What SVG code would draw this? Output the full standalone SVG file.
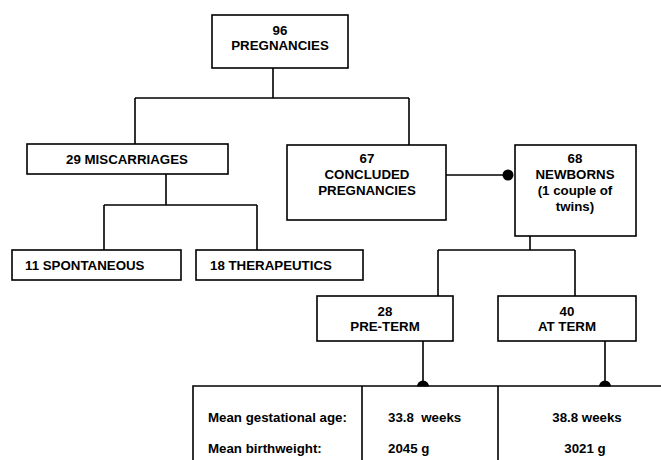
<svg xmlns="http://www.w3.org/2000/svg" width="661" height="460" viewBox="0 0 661 460">
<style>
.box{fill:#fff;stroke:#000;stroke-width:1.6}
.ln{fill:none;stroke:#000;stroke-width:1.6}
text{font-family:"Liberation Sans",Arial,sans-serif;font-weight:bold;font-size:13.3px;fill:#000}
.c{text-anchor:middle}
</style>
<rect width="661" height="460" fill="#fff"/>
<g id="connectors">
<path class="ln" d="M273 68V98M135 98H409M135 98V144M409 98V145"/>
<path class="ln" d="M166 174V205M104 205H257M104 205V250M257 205V250"/>
<path class="ln" d="M446 175H508"/>
<circle cx="508" cy="175" r="5.5" fill="#000"/>
<path class="ln" d="M530 236V250M438 250H575M438 250V296M575 250V296"/>
<path class="ln" d="M423 341V386M605 341V386"/>
<path d="M417 386.5A6 6 0 0 1 429 386.5Z M599 386.5A6 6 0 0 1 611 386.5Z" fill="#000"/>
</g>
<g id="n96">
<rect class="box" x="212" y="15" width="136" height="53"/>
<text class="c" x="280" y="35">96</text>
<text class="c" x="280" y="50">PREGNANCIES</text>
</g>
<g id="miscarriages">
<rect class="box" x="27" y="144" width="201" height="30"/>
<text class="c" x="127" y="164">29 MISCARRIAGES</text>
</g>
<g id="concluded">
<rect class="box" x="287" y="145" width="159" height="75"/>
<text class="c" x="367" y="163">67</text>
<text class="c" x="367" y="179">CONCLUDED</text>
<text class="c" x="367" y="195">PREGNANCIES</text>
</g>
<g id="newborns">
<rect class="box" x="515" y="145" width="121" height="91"/>
<text class="c" x="575" y="163">68</text>
<text class="c" x="575" y="179">NEWBORNS</text>
<text class="c" x="575" y="195">(1 couple of</text>
<text class="c" x="575" y="211">twins)</text>
</g>
<g id="spontaneous">
<rect class="box" x="12" y="250" width="169" height="30"/>
<text x="25" y="270">11 SPONTANEOUS</text>
</g>
<g id="therapeutics">
<rect class="box" x="196" y="250" width="167" height="30"/>
<text x="210" y="270">18 THERAPEUTICS</text>
</g>
<g id="preterm">
<rect class="box" x="317" y="296" width="136" height="45"/>
<text class="c" x="385" y="316">28</text>
<text class="c" x="385" y="331">PRE-TERM</text>
</g>
<g id="atterm">
<rect class="box" x="498" y="296" width="138" height="45"/>
<text class="c" x="567" y="316">40</text>
<text class="c" x="567" y="331">AT TERM</text>
</g>
<g id="table">
<path class="ln" d="M193 470V386H661M362 386V470M498 386V470"/>
<text x="208" y="422">Mean gestational age:</text>
<text x="208" y="453">Mean birthweight:</text>
<text x="388" y="422" xml:space="preserve">33.8  weeks</text>
<text x="388" y="453">2045 g</text>
<text class="c" x="587" y="422">38.8 weeks</text>
<text class="c" x="585" y="453">3021 g</text>
</g>
</svg>
